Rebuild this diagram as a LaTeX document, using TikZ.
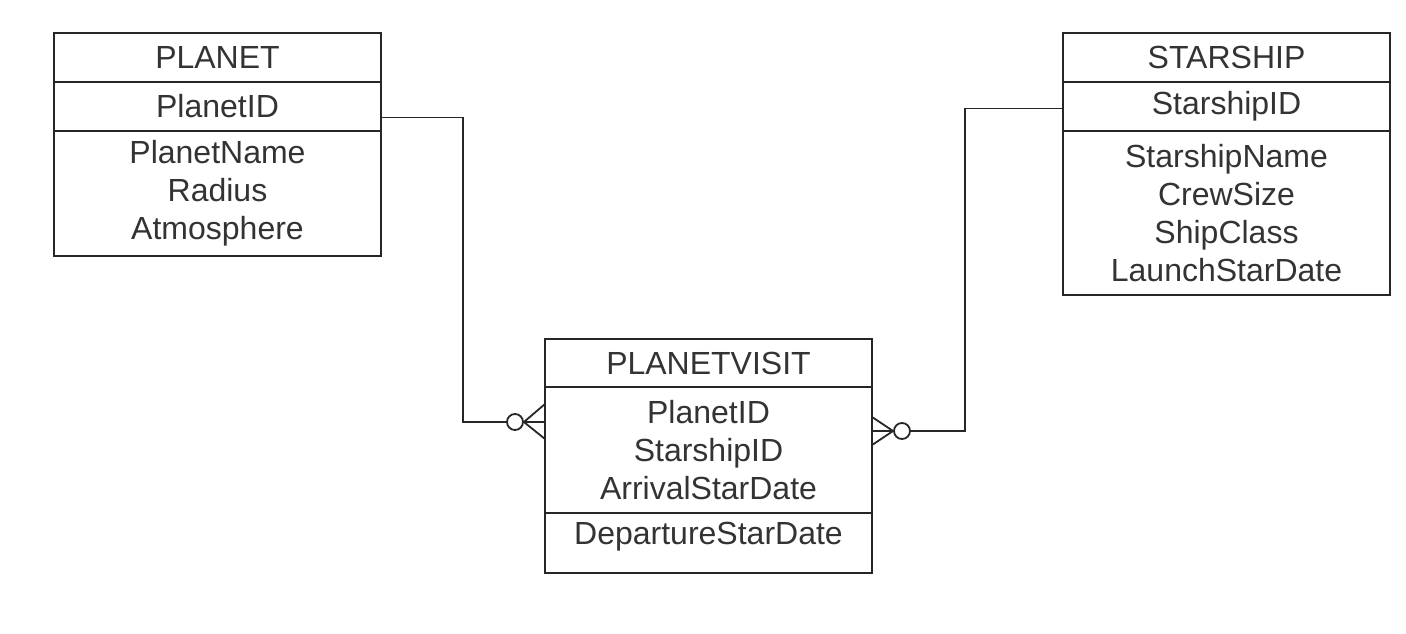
\documentclass[tikz,border=0pt]{standalone}
\usepackage{fontspec}
\setmainfont{Liberation Sans}
\begin{document}
\begin{tikzpicture}[x=1pt,y=-1pt,
  comp/.style={draw=black!85, line width=1.8pt, minimum width=327pt, inner sep=0pt, outer sep=0pt, align=center, anchor=north west, text=black!80, font=\fontsize{32}{38}\selectfont},
  lbl/.style={inner sep=0pt, text=black!80, font=\fontsize{32}{38}\selectfont},
  conn/.style={draw=black!85, line width=1.8pt},
]
\useasboundingbox (0,0) rectangle (1406,633);
% PLANET
\node[comp, minimum height=49pt] (p1) at (54,33) {PLANET};
\node[comp, minimum height=49pt] (p2) at (54,82) {PlanetID};
\node[comp, minimum height=125pt] (p3) at (54,131) {PlanetName\\Radius\\Atmosphere};
% STARSHIP
\node[comp, minimum height=49pt] (s1) at (1063,33) {STARSHIP};
\node[comp, minimum height=49pt] (s2) at (1063,82) {StarshipID};
\node[comp, minimum height=164pt] (s3) at (1063,131) {StarshipName\\CrewSize\\ShipClass\\LaunchStarDate};
% PLANETVISIT
\node[comp, minimum height=48pt] (v1) at (545,339) {PLANETVISIT};
\node[comp, minimum height=126pt] (v2) at (545,387) {PlanetID\\StarshipID\\ArrivalStarDate};
\node[comp, minimum height=60pt] (v3) at (545,513) {};
\node[lbl] (v3t) at (708.5,537) {DepartureStarDate};
% connector PLANET -> PLANETVISIT
\node[conn, circle, minimum size=16pt, inner sep=0pt, fill=white] (o1) at (515,422) {};
\draw[conn] ([yshift=-11pt]p2.east) -| (463,422) -- (o1.west);
\draw[conn] (o1.east) -- (545,404);
\draw[conn] (o1.east) -- (545,422);
\draw[conn] (o1.east) -- (545,439);
% connector STARSHIP -> PLANETVISIT
\node[conn, circle, minimum size=16pt, inner sep=0pt, fill=white] (o2) at (902,431) {};
\draw[conn] ([yshift=-2pt]s2.west) -| (965,431) -- (o2.east);
\draw[conn] (o2.west) -- (872,417);
\draw[conn] (o2.west) -- (872,431);
\draw[conn] (o2.west) -- (872,445);
\end{tikzpicture}
\end{document}
